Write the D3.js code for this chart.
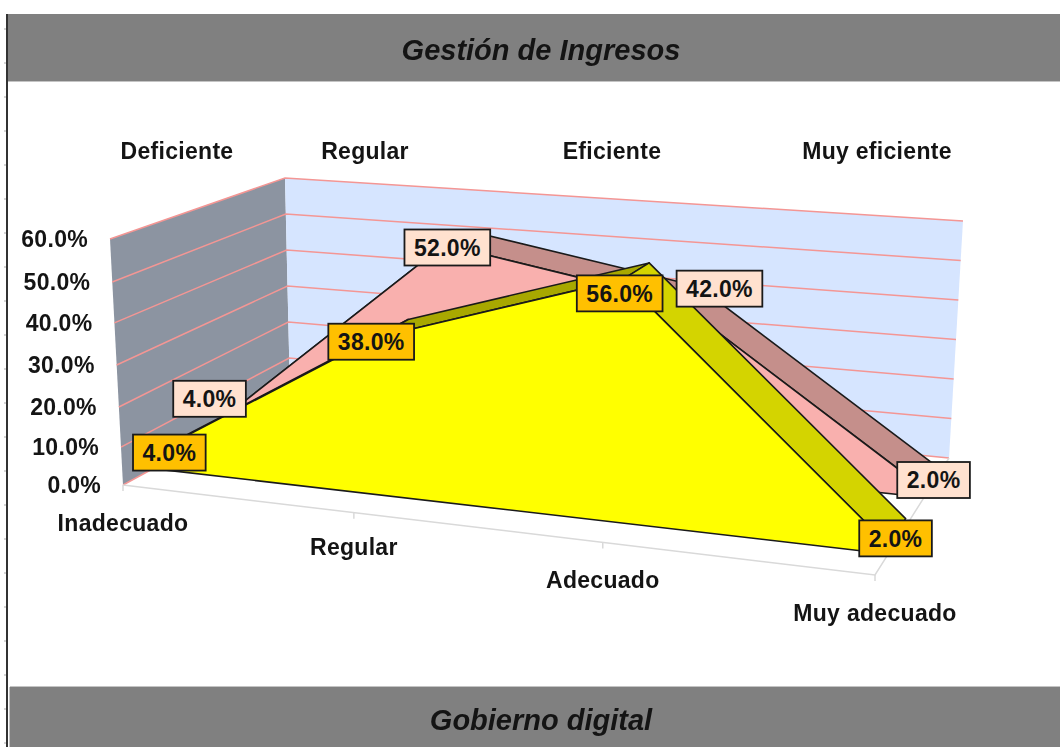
<!DOCTYPE html>
<html>
<head>
<meta charset="utf-8">
<script src="https://cdn.jsdelivr.net/npm/d3@7"></script>
<style>
	html, body { margin: 0; padding: 0; background: #fff; overflow: hidden; }
	svg { display: block; filter: blur(0.45px); }
	text { font-family: "Liberation Sans", Arial, sans-serif; font-weight: bold; fill: #141414; letter-spacing: 0.3px; }
</style>
</head>
<body>
<svg id="chart" width="1060" height="747"></svg>
<script>
// Chart values
const chartTitle = "Gestión de Ingresos";
const nextTitle = "Gobierno digital";
const categories = ["Inadecuado", "Regular", "Adecuado", "Muy adecuado"];
const ratings = ["Deficiente", "Regular", "Eficiente", "Muy eficiente"];
const yTicks = [0, 10, 20, 30, 40, 50, 60];
const backSeries = [4, 52, 42, 2];
const frontSeries = [4, 38, 56, 2];

const svg = d3.select("#chart");
const width = 1060;
const height = 747;

// Box corners of the 3D plot: [floor x, floor y, top x, top y]
const frontLeft = [123, 485, 110, 239];
const frontRight = [875, 575, 881, 293];
const backLeft = [290, 394, 285, 178];
const backRight = [949, 458, 963, 221];

// Perspective squeezes the categories, so the range is not even
const xPos = d3.scaleLinear().domain([0, 1, 2, 3]).range([0, 0.307, 0.638, 1]);
// Same on the front edge of the value axis, the back wall is even
const yPosFront = d3.scaleLinear().domain(yTicks).range([0, 0.154, 0.317, 0.488, 0.659, 0.825, 1]);
const yPosBack = d3.scaleLinear().domain([0, 60]).range([0, 1]);

function lerp(a, b, t) {
	return a + (b - a) * t;
}

// category index, value, depth (0 front, 1 back) -> screen point
function project(i, v, z) {
	const t = xPos(i);
	const u = lerp(yPosFront(v), yPosBack(v), z);
	const corner = (k) => lerp(lerp(frontLeft[k], frontRight[k], t), lerp(backLeft[k], backRight[k], t), z);
	return [lerp(corner(0), corner(2), u), lerp(corner(1), corner(3), u)];
}

const line = d3.line();
const closed = (pts) => line(pts) + "Z";
const lastCat = categories.length - 1;

// Title bands
svg.append("rect").attr("x", 7).attr("y", 14).attr("width", width - 7).attr("height", 67).attr("fill", "#808080");
svg.append("rect").attr("x", 7).attr("y", 81).attr("width", width - 7).attr("height", 1).attr("fill", "#c4c4c4");
svg.append("rect").attr("x", 10).attr("y", 687).attr("width", width - 10).attr("height", 60).attr("fill", "#808080");
svg.append("rect").attr("x", 10).attr("y", 686).attr("width", width - 10).attr("height", 1).attr("fill", "#c4c4c4");
svg.append("rect").attr("x", 9).attr("y", 687).attr("width", 1).attr("height", 60).attr("fill", "#c4c4c4");
svg.append("rect").attr("x", 6).attr("y", 14).attr("width", 2).attr("height", height - 14).attr("fill", "#333");

// little sheet ticks left of the border
svg.append("g").selectAll("rect")
	.data(d3.range(28, height, 34))
	.enter().append("rect")
	.attr("x", 4).attr("y", (d) => d).attr("width", 2).attr("height", 2).attr("fill", "#d4d4d4");

svg.selectAll(".band-title")
	.data([{ t: chartTitle, y: 60 }, { t: nextTitle, y: 730 }])
	.enter().append("text")
	.attr("class", "band-title")
	.attr("x", 541).attr("y", (d) => d.y)
	.attr("text-anchor", "middle")
	.attr("font-size", "29px")
	.attr("font-style", "italic")
	.style("letter-spacing", "0")
	.text((d) => d.t);

// Walls
svg.append("path")
	.attr("d", closed([project(0, 0, 0), project(0, 60, 0), project(0, 60, 1), project(0, 0, 1)]))
	.attr("fill", "#8c94a1");
svg.append("path")
	.attr("d", closed([project(0, 0, 1), project(0, 60, 1), project(lastCat, 60, 1), project(lastCat, 0, 1)]))
	.attr("fill", "#d6e5ff");

// Gridlines on both walls
const gridColor = "#f49694";
yTicks.forEach((v) => {
	svg.append("path")
		.attr("d", line([project(0, v, 0), project(0, v, 1), project(lastCat, v, 1)]))
		.attr("fill", "none")
		.attr("stroke", gridColor)
		.attr("stroke-width", 1.5);
});

// Floor edges and ticks
const floorColor = "#d9d9d9";
svg.append("path")
	.attr("d", line([project(0, 0, 0), project(lastCat, 0, 0), project(lastCat, 0, 1)]))
	.attr("fill", "none")
	.attr("stroke", floorColor)
	.attr("stroke-width", 1.5);
categories.forEach((c, i) => {
	const p = project(i, 0, 0);
	svg.append("path")
		.attr("d", line([p, [p[0], p[1] + 6]]))
		.attr("stroke", floorColor)
		.attr("stroke-width", 1.5);
});

// One 3D area: top strips first, then the front face on top of them
function drawArea(values, zFront, zBack, faceColor, riseColor, fallColor) {
	const g = svg.append("g").attr("stroke", "#1a1a1a").attr("stroke-width", 1.6).attr("stroke-linejoin", "round");
	d3.pairs(values.map((v, i) => ({ v, i }))).forEach(([a, b]) => {
		g.append("path")
			.attr("d", closed([project(a.i, a.v, zFront), project(b.i, b.v, zFront), project(b.i, b.v, zBack), project(a.i, a.v, zBack)]))
			.attr("fill", b.v > a.v ? riseColor : fallColor);
	});
	const top = values.map((v, i) => project(i, v, zFront));
	g.append("path")
		.attr("d", closed([project(0, 0, zFront), ...top, project(lastCat, 0, zFront)]))
		.attr("fill", faceColor);
}

const backZ = [0.665, 0.85];
const frontZ = [0.18, 0.41];
drawArea(backSeries, backZ[0], backZ[1], "#f9b0ae", "#c58f8b", "#c58f8b");
drawArea(frontSeries, frontZ[0], frontZ[1], "#ffff00", "#a8a800", "#d4d400");

// Data labels, with the hand nudges they have in the original
function drawLabels(values, z, fill, nudge) {
	const g = svg.append("g").selectAll("g")
		.data(values)
		.enter().append("g")
		.attr("transform", (d, i) => {
			const p = project(i, d, z);
			return `translate(${p[0] + nudge[i][0]},${p[1] + nudge[i][1]})`;
		});
	const rects = g.append("rect").attr("fill", fill).attr("stroke", "#1a1a1a").attr("stroke-width", 1.8);
	const texts = g.append("text")
		.attr("text-anchor", "middle")
		.attr("dy", "0.36em")
		.attr("font-size", "23px")
		.text((d) => d3.format(".1f")(d) + "%");
	texts.each(function (d, i) {
		const w = this.getComputedTextLength() + 19;
		d3.select(rects.nodes()[i]).attr("x", -w / 2).attr("y", -18).attr("width", w).attr("height", 36);
	});
}

drawLabels(backSeries, backZ[0], "#ffe1cf", [[-24, -11], [3, 3], [42, -13], [9, -9]]);
drawLabels(frontSeries, frontZ[0], "#ffc000", [[17, -1], [-4, 4], [-3, 14], [7, -7]]);

// Value axis labels follow the front wall edge
svg.selectAll(".y-label")
	.data(yTicks)
	.enter().append("text")
	.attr("class", "y-label")
	.attr("text-anchor", "end")
	.attr("dy", "0.36em")
	.attr("x", (d) => project(0, d, 0)[0] - 22)
	.attr("y", (d) => project(0, d, 0)[1])
	.attr("font-size", "23px")
	.text((d) => d3.format(".1f")(d) + "%");

// Category labels under the ticks
const catLabelDrop = [38, 34, 37, 38];
svg.selectAll(".x-label")
	.data(categories)
	.enter().append("text")
	.attr("class", "x-label")
	.attr("text-anchor", "middle")
	.attr("dy", "0.36em")
	.attr("x", (d, i) => project(i, 0, 0)[0])
	.attr("y", (d, i) => project(i, 0, 0)[1] + catLabelDrop[i])
	.attr("font-size", "23px")
	.text((d) => d);

// Rating labels along the top
const ratingX = [177, 365, 612, 877];
svg.selectAll(".rating")
	.data(ratings)
	.enter().append("text")
	.attr("class", "rating")
	.attr("text-anchor", "middle")
	.attr("dy", "0.36em")
	.attr("x", (d, i) => ratingX[i])
	.attr("y", 151)
	.attr("font-size", "23px")
	.text((d) => d);
</script>
</body>
</html>
